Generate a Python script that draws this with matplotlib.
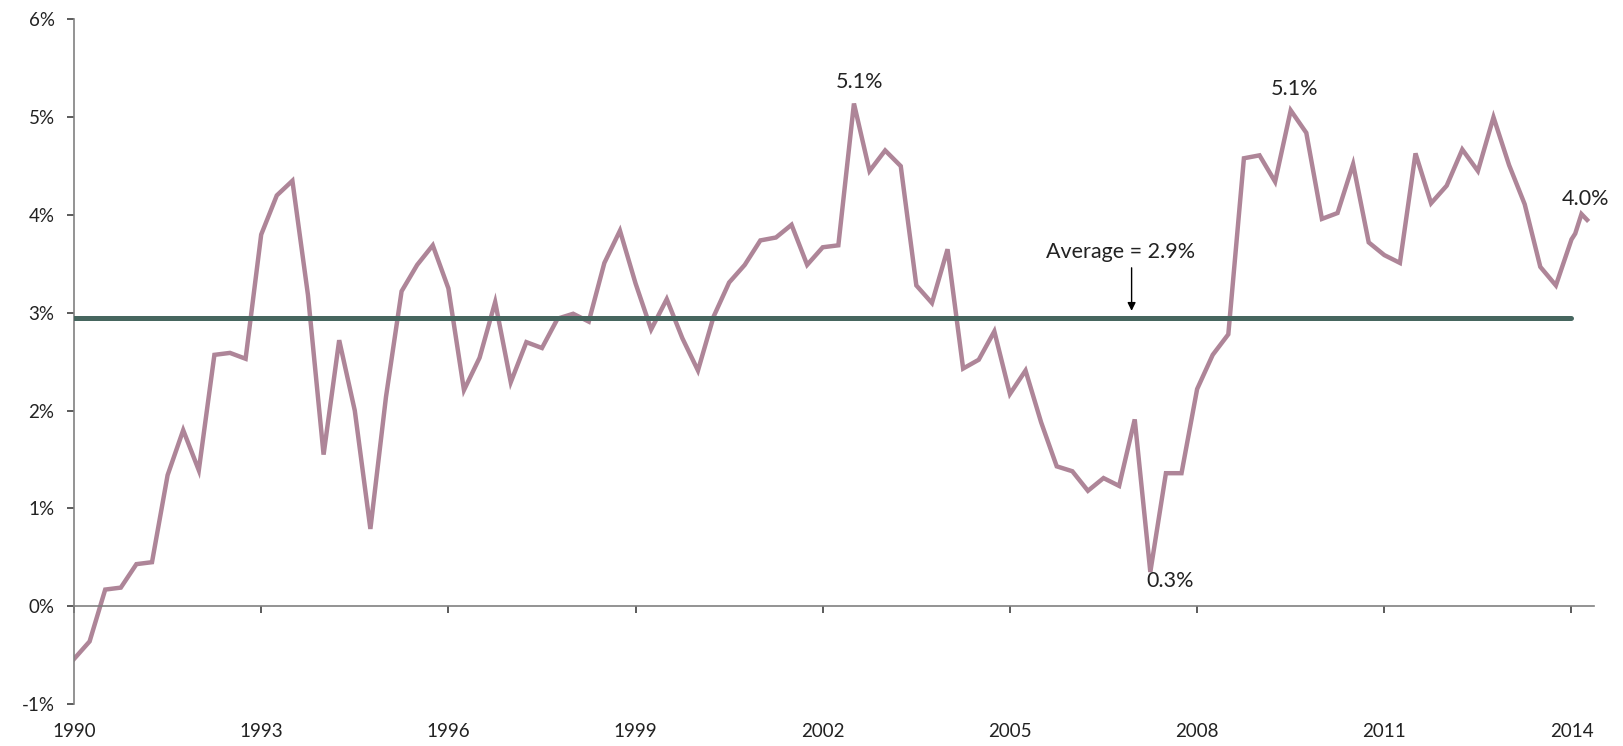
import numpy as np
import matplotlib
matplotlib.use("Agg")
import matplotlib.pyplot as plt

plt.rcParams['font.family'] = ['Lato', 'DejaVu Sans']
plt.rcParams['font.size'] = 13.5

# quarterly growth, % (1990Q1 .. 2014Q1)
growth_q = [
    -0.54, -0.36, 0.17, 0.19,   # 1990
    0.43, 0.45, 1.34, 1.80,     # 1991
    1.39, 2.57, 2.59, 2.53,     # 1992
    3.80, 4.20, 4.35, 3.18,     # 1993
    1.55, 2.72, 2.00, 0.79,     # 1994
    2.14, 3.22, 3.49, 3.69,     # 1995
    3.25, 2.21, 2.54, 3.11,     # 1996
    2.29, 2.70, 2.64, 2.94,     # 1997
    2.99, 2.91, 3.51, 3.84,     # 1998
    3.30, 2.83, 3.14, 2.74,     # 1999
    2.41, 2.96, 3.31, 3.49,     # 2000
    3.74, 3.77, 3.90, 3.49,     # 2001
    3.67, 3.69, 5.14, 4.45,     # 2002
    4.66, 4.50, 3.28, 3.10,     # 2003
    3.65, 2.43, 2.52, 2.81,     # 2004
    2.17, 2.41, 1.88, 1.43,     # 2005
    1.38, 1.18, 1.31, 1.23,     # 2006
    1.91, 0.35, 1.36, 1.36,     # 2007
    2.22, 2.57, 2.78, 4.58,     # 2008
    4.61, 4.34, 5.07, 4.84,     # 2009
    3.96, 4.02, 4.52, 3.72,     # 2010
    3.59, 3.51, 4.63, 4.12,     # 2011
    4.30, 4.67, 4.45, 5.00,     # 2012
    4.51, 4.11, 3.47, 3.28,     # 2013
    3.75,                       # 2014
]
# last few readings after 2014Q1
tail_dates = [2014.06, 2014.16, 2014.25]
tail_growth = [3.81, 4.01, 3.95]

average = 2.95
avg_label = "Average = 2.9%"

# (index into series, label, offset in points)
callouts = [
    (50, "5.1%", (4, 8)),
    (78, "5.1%", (3, 8)),
    (69, "0.3%", (14, -14)),
    (99, "4.0%", (-1, 8)),
]

year_ticks = [1990, 1993, 1996, 1999, 2002, 2005, 2008, 2011, 2014]
pct_ticks = [-1, 0, 1, 2, 3, 4, 5, 6]

q_dates = 1990 + 0.25 * np.arange(len(growth_q))
dates = np.concatenate([q_dates, tail_dates])
growth = np.concatenate([growth_q, tail_growth])

fig = plt.figure(figsize=(16.23, 7.46), dpi=100)
ax = fig.add_axes([0.0456, 0.0563, 0.9365, 0.9177])

ax.plot(dates, growth, color='#AE8598', lw=3.2, solid_joinstyle='miter', zorder=2)
ax.plot([q_dates[0], q_dates[-1]], [average, average], color='#46665F',
        lw=3.6, solid_capstyle='round', zorder=3)

# average callout
ax.annotate('', xy=(2006.95, average + 0.07), xytext=(2006.95, 3.46),
            arrowprops=dict(arrowstyle='-|>', color='black', lw=1.0,
                            mutation_scale=12, shrinkA=0, shrinkB=0))
ax.text(2006.78, 3.62, avg_label, ha='center', va='center', color='#222222',
        fontsize=15.5)

for i, txt, off in callouts:
    ax.annotate(txt, xy=(dates[i], growth[i]), xytext=off,
                textcoords='offset points', ha='center', va='bottom',
                color='#222222', fontsize=15.5)

ax.set_xlim(1990, 2014.36)
ax.set_ylim(-1, 6)
ax.set_xticks(year_ticks)
ax.set_xticklabels([str(y) for y in year_ticks])
ax.set_yticks(pct_ticks)
ax.set_yticklabels([f"{p}%" for p in pct_ticks])

for s in ['top', 'right']:
    ax.spines[s].set_visible(False)
ax.spines['bottom'].set_position(('data', 0))
for s in ['left', 'bottom']:
    ax.spines[s].set_color('#808080')
    ax.spines[s].set_linewidth(1.2)

ax.tick_params(axis='x', direction='out', length=5, width=1.2, color='#404040',
               pad=79, labelcolor='#222222')
ax.tick_params(axis='y', direction='out', length=5, width=1.2, color='#404040',
               pad=9, labelcolor='#222222')

fig.savefig("out.png", dpi=100)
